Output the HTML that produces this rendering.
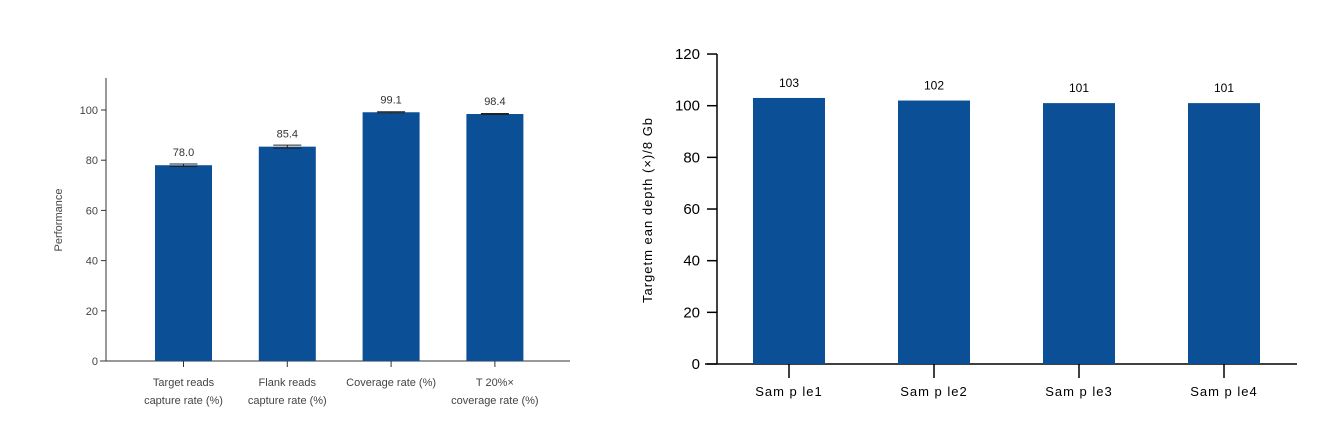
<!DOCTYPE html>
<html><head><meta charset="utf-8"><style>
body{margin:0;background:#fff;width:1324px;height:420px;overflow:hidden;font-family:"Liberation Sans",sans-serif}
</style></head><body>
<svg id="c" width="1324" height="420" xmlns="http://www.w3.org/2000/svg"></svg>
<script>
const leftCats=[["Target reads","capture rate (%)"],["Flank reads","capture rate (%)"],["Coverage rate (%)"],["T 20%×","coverage rate (%)"]];
const leftVals=[78.0,85.4,99.1,98.4];
const leftErr=[0.5,0.6,0.2,0.2];
const leftTicks=[0,20,40,60,80,100];
const rightCats=["Sam p le1","Sam p le2","Sam p le3","Sam p le4"];
const rightVals=[103,102,101,101];
const rightTicks=[0,20,40,60,80,100,120];
const svg=document.getElementById('c');const NS="http://www.w3.org/2000/svg";
function mk(t,a,txt){const e=document.createElementNS(NS,t);for(const k in a)e.setAttribute(k,a[k]);if(txt!==undefined)e.textContent=txt;svg.appendChild(e);return e;}
const C="#0b4f96";
// left chart
const lY=v=>361-v*2.51;const lX=i=>183.5+i*103.8;
let e=mk('line',{x1:106,y1:78,x2:106,y2:361,stroke:'#333','stroke-width':1});

e=mk('line',{x1:100,y1:361,x2:570,y2:361,stroke:'#333','stroke-width':1});

leftTicks.forEach(t=>{mk('line',{x1:101,y1:lY(t),x2:106,y2:lY(t),stroke:'#333'});
e=mk('text',{x:98,y:lY(t)+4,'text-anchor':'end','font-size':11,fill:'#444'},t);
});
e=mk('text',{x:62,y:220,'text-anchor':'middle','font-size':11,fill:'#444',transform:'rotate(-90 62 220)'},'Performance');

leftVals.forEach((v,i)=>{const x=lX(i);
e=mk('rect',{x:x-28.5,y:lY(v),width:57,height:361-lY(v),fill:C});

const ey1=lY(v+leftErr[i]),ey2=lY(v-leftErr[i]);
mk('line',{x1:x-14,y1:ey1,x2:x+14,y2:ey1,stroke:'#222'});mk('line',{x1:x-14,y1:ey2,x2:x+14,y2:ey2,stroke:'#222'});mk('line',{x1:x,y1:ey1,x2:x,y2:ey2,stroke:'#222'});
e=mk('text',{x:x,y:lY(v)-9,'text-anchor':'middle','font-size':11,fill:'#333'},v.toFixed(1));

mk('line',{x1:x,y1:361,x2:x,y2:367,stroke:'#333'});
leftCats[i].forEach((l,j)=>{e=mk('text',{x:x,y:386+j*18,'text-anchor':'middle','font-size':11,fill:'#444'},l);
});});
// right chart
const rY=v=>364-v*2.583;const rX=i=>789+i*145;
e=mk('line',{x1:717,y1:54,x2:717,y2:364,stroke:'#000','stroke-width':1.5});

e=mk('line',{x1:705,y1:364,x2:1297,y2:364,stroke:'#000','stroke-width':1.5});

rightTicks.forEach(t=>{mk('line',{x1:707,y1:rY(t),x2:717,y2:rY(t),stroke:'#000','stroke-width':1.5});
e=mk('text',{x:700,y:rY(t)+5,'text-anchor':'end','font-size':15,fill:'#000'},t);
});
e=mk('text',{x:652,y:210,'text-anchor':'middle','font-size':13,fill:'#000','letter-spacing':1,transform:'rotate(-90 652 210)'},'Targetm ean depth (×)/8 Gb');

rightVals.forEach((v,i)=>{const x=rX(i);
e=mk('rect',{x:x-36,y:rY(v),width:72,height:364-rY(v),fill:C});

e=mk('text',{x:x,y:rY(v)-11,'text-anchor':'middle','font-size':12,fill:'#000'},v);

mk('line',{x1:x,y1:364,x2:x,y2:378,stroke:'#000','stroke-width':1.5});
e=mk('text',{x:x,y:396,'text-anchor':'middle','font-size':13,fill:'#000','letter-spacing':1},rightCats[i]);
});
</script>
</body></html>
